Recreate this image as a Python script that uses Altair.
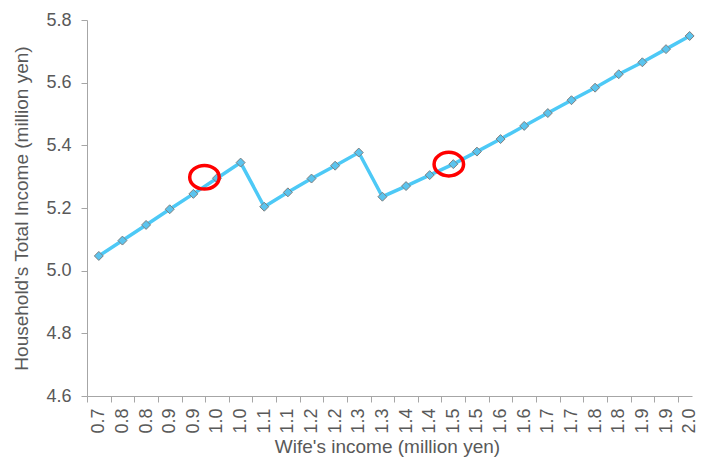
import altair as alt
import pandas as pd

# Wife's income tick labels (one per category)
x_labels = ["0.7", "0.8", "0.8", "0.9", "0.9", "1.0", "1.0", "1.1", "1.1", "1.2",
            "1.2", "1.3", "1.3", "1.4", "1.4", "1.5", "1.5", "1.6", "1.6", "1.7",
            "1.7", "1.8", "1.8", "1.9", "1.9", "2.0"]
# Household's total income (million yen)
total_income = [5.047, 5.096, 5.146, 5.196, 5.245, 5.295, 5.345, 5.204, 5.250, 5.294,
                5.335, 5.377, 5.236, 5.270, 5.305, 5.340, 5.380, 5.420, 5.462, 5.503,
                5.544, 5.584, 5.627, 5.665, 5.707, 5.749]
# highlighted spots (category position, value)
highlight_pos = [4.47, 14.81]
highlight_val = [5.298, 5.340]

y_ticks = [4.6, 4.8, 5.0, 5.2, 5.4, 5.6, 5.8]

df = pd.DataFrame({"idx": list(range(len(x_labels))), "income": total_income})
hl = pd.DataFrame({"idx": highlight_pos, "income": highlight_val})

W = 605
H = 376
PAD_L, PAD_T, PAD_R, PAD_B = 79, 12, 6, 62
domain_x = [-0.5, 25.1]
half_band = W / (domain_x[1] - domain_x[0]) / 2

grey = "#595959"
axis_grey = "#a6a6a6"
font = "Liberation Sans"

label_expr = "[" + ",".join("'" + s + "'" for s in x_labels) + "][datum.value]"

x_enc = alt.X(
    "idx:Q",
    scale=alt.Scale(domain=domain_x, nice=False, zero=False),
    axis=alt.Axis(
        values=list(range(len(x_labels))),
        tickCount=len(x_labels) + 4,
        labelExpr=label_expr,
        labelAngle=270,
        labelAlign="right",
        labelBaseline="middle",
        labelOverlap=False,
        tickOffset=-half_band,
        labelOffset=half_band,
        tickSize=6,
        labelPadding=6,
        title="Wife's income (million yen)",
        titlePadding=4,
        titleX=300,
        grid=False,
    ),
)
y_enc = alt.Y(
    "income:Q",
    scale=alt.Scale(domain=[4.6, 5.8], nice=False, zero=False),
    axis=alt.Axis(
        values=y_ticks,
        tickCount=len(y_ticks) + 2,
        format=".1f",
        tickSize=6,
        labelPadding=10,
        labelOverlap=False,
        title="Household's Total Income (million yen)",
        titlePadding=14,
        grid=False,
    ),
)

base = alt.Chart(df)
line = base.mark_line(color="#4DC9F6", strokeWidth=3.5).encode(x=x_enc, y=y_enc)
pts = base.mark_point(
    shape="diamond", filled=True, fill="#5BC4EE", stroke="#7f7f7f",
    strokeWidth=1, size=80, opacity=1
).encode(x="idx:Q", y="income:Q")

ellipse = "M -1 0 A 1 0.8 0 1 1 1 0 A 1 0.8 0 1 1 -1 0 Z"
rings = alt.Chart(hl).mark_point(
    shape=ellipse, filled=False, stroke="#ff0000", strokeWidth=3.5,
    size=870, opacity=1
).encode(x="idx:Q", y="income:Q")

chart = (
    alt.layer(line, pts, rings)
    .properties(
        width=W,
        height=H,
        autosize=alt.AutoSizeParams(type="none"),
        padding={"left": PAD_L, "top": PAD_T, "right": PAD_R, "bottom": PAD_B},
        background="white",
    )
    .configure_view(stroke=None)
    .configure_axis(
        labelFont=font,
        titleFont=font,
        labelFontSize=18,
        titleFontSize=19,
        labelColor=grey,
        titleColor=grey,
        titleFontWeight="normal",
        domainColor=axis_grey,
        tickColor=axis_grey,
        domainWidth=1,
        tickWidth=1,
    )
)

chart.save("out.html", embed_options={"renderer": "svg", "actions": False})
